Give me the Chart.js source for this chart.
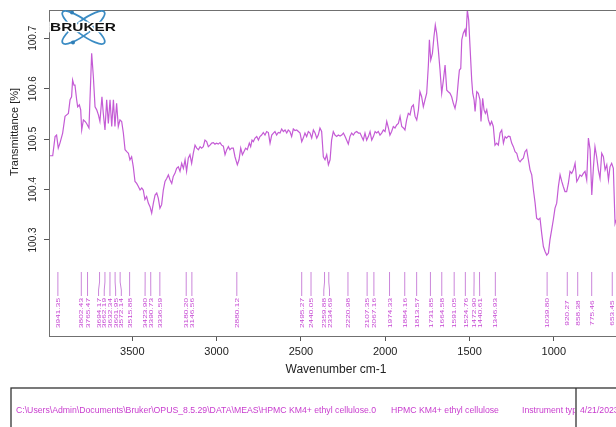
<!DOCTYPE html>
<html>
<head>
<meta charset="utf-8">
<script src="https://cdn.jsdelivr.net/npm/chart.js@4/dist/chart.umd.min.js"></script>
<style>
  html, body { margin: 0; padding: 0; background: #fff; width: 616px; height: 427px; overflow: hidden; }
  #wrap { position: absolute; left: 0; top: 0; width: 700px; height: 427px; }
</style>
</head>
<body>
<div id="wrap"><canvas id="spectrum" width="700" height="427"></canvas></div>
<script>
// IR spectrum: wavenumber (cm-1) and transmittance (%)
const wavenumbers = [
  3988, 3972, 3958, 3949, 3939, 3929, 3913, 3899, 3889, 3879, 3869, 3860, 3854, 3846, 3840, 3830,
  3824, 3814, 3806, 3800, 3790, 3780, 3771, 3757, 3751, 3741, 3731, 3721, 3711, 3701, 3692, 3680,
  3672, 3662, 3652, 3642, 3632, 3622, 3612, 3603, 3593, 3583, 3573, 3563, 3553, 3543, 3533, 3523,
  3514, 3504, 3494, 3484, 3474, 3464, 3454, 3444, 3435, 3425, 3415, 3405, 3395, 3385, 3375, 3365,
  3355, 3346, 3336, 3326, 3316, 3306, 3296, 3286, 3276, 3266, 3257, 3247, 3237, 3227, 3217, 3207,
  3197, 3187, 3178, 3168, 3158, 3148, 3138, 3128, 3118, 3108, 3098, 3089, 3079, 3069, 3059, 3049,
  3039, 3029, 3019, 3010, 3000, 2990, 2980, 2970, 2960, 2950, 2940, 2930, 2921, 2911, 2901, 2891,
  2877, 2867, 2857, 2847, 2838, 2828, 2818, 2806, 2798, 2790, 2782, 2772, 2762, 2752, 2743, 2733,
  2723, 2713, 2703, 2693, 2683, 2673, 2663, 2654, 2644, 2634, 2624, 2614, 2604, 2594, 2584, 2575,
  2565, 2555, 2545, 2535, 2525, 2515, 2505, 2495, 2486, 2476, 2466, 2456, 2446, 2436, 2426, 2416,
  2406, 2397, 2387, 2377, 2367, 2357, 2347, 2337, 2327, 2318, 2308, 2298, 2288, 2278, 2268, 2258,
  2248, 2238, 2229, 2219, 2209, 2199, 2189, 2179, 2169, 2159, 2149, 2140, 2130, 2120, 2110, 2100,
  2090, 2080, 2070, 2060, 2051, 2041, 2031, 2021, 2011, 2001, 1991, 1981, 1972, 1962, 1952, 1942,
  1932, 1922, 1912, 1902, 1892, 1883, 1873, 1863, 1853, 1843, 1833, 1823, 1813, 1803, 1794, 1784,
  1774, 1764, 1754, 1744, 1738, 1730, 1720, 1711, 1703, 1695, 1685, 1675, 1665, 1655, 1645, 1635,
  1626, 1616, 1606, 1596, 1586, 1576, 1566, 1560, 1552, 1546, 1537, 1527, 1521, 1513, 1505, 1497,
  1487, 1481, 1473, 1467, 1457, 1448, 1438, 1432, 1422, 1414, 1406, 1398, 1388, 1378, 1369, 1359,
  1349, 1339, 1329, 1319, 1309, 1299, 1289, 1280, 1270, 1260, 1250, 1240, 1230, 1220, 1210, 1200,
  1191, 1181, 1171, 1161, 1151, 1141, 1131, 1121, 1111, 1102, 1092, 1082, 1072, 1062, 1052, 1042,
  1032, 1023, 1013, 1003, 993, 983, 973, 963, 953, 944, 934, 924, 914, 904, 894, 884,
  874, 864, 854, 845, 835, 825, 815, 805, 795, 785, 775, 765, 756, 746, 736, 726,
  716, 706, 696, 686, 676, 667, 657, 647, 637, 631
];
const transmittance = [
  100.467, 100.467, 100.505, 100.508, 100.482, 100.492, 100.512, 100.545, 100.548, 100.551, 100.578, 100.584, 100.617, 100.607, 100.607, 100.578,
  100.564, 100.568, 100.558, 100.518, 100.538, 100.535, 100.531, 100.522, 100.578, 100.670, 100.624, 100.564, 100.558, 100.548, 100.535, 100.584,
  100.551, 100.518, 100.578, 100.531, 100.578, 100.525, 100.578, 100.525, 100.571, 100.525, 100.538, 100.535, 100.512, 100.479, 100.475, 100.472,
  100.459, 100.465, 100.445, 100.416, 100.412, 100.406, 100.399, 100.403, 100.399, 100.380, 100.386, 100.373, 100.366, 100.353, 100.373, 100.389,
  100.393, 100.383, 100.363, 100.370, 100.399, 100.416, 100.422, 100.429, 100.419, 100.412, 100.426, 100.432, 100.442, 100.445, 100.436, 100.452,
  100.442, 100.459, 100.436, 100.462, 100.469, 100.452, 100.472, 100.488, 100.482, 100.479, 100.485, 100.482, 100.485, 100.498, 100.495, 100.485,
  100.488, 100.492, 100.493, 100.490, 100.492, 100.490, 100.493, 100.488, 100.486, 100.469, 100.479, 100.485, 100.479, 100.482, 100.482, 100.465,
  100.449, 100.459, 100.482, 100.469, 100.475, 100.482, 100.479, 100.492, 100.485, 100.498, 100.495, 100.502, 100.505, 100.498, 100.505, 100.508,
  100.513, 100.508, 100.515, 100.513, 100.492, 100.508, 100.512, 100.515, 100.508, 100.513, 100.512, 100.520, 100.515, 100.518, 100.512, 100.518,
  100.515, 100.505, 100.520, 100.517, 100.518, 100.515, 100.512, 100.495, 100.502, 100.512, 100.505, 100.515, 100.512, 100.502, 100.518, 100.512,
  100.502, 100.508, 100.522, 100.515, 100.465, 100.459, 100.469, 100.449, 100.459, 100.498, 100.515, 100.508, 100.505, 100.508, 100.506, 100.508,
  100.512, 100.505, 100.498, 100.490, 100.505, 100.512, 100.508, 100.513, 100.515, 100.512, 100.512, 100.505, 100.498, 100.512, 100.498, 100.505,
  100.515, 100.498, 100.505, 100.515, 100.512, 100.515, 100.508, 100.512, 100.518, 100.515, 100.535, 100.522, 100.508, 100.515, 100.525, 100.522,
  100.528, 100.531, 100.545, 100.525, 100.522, 100.518, 100.538, 100.551, 100.548, 100.564, 100.568, 100.545, 100.538, 100.558, 100.594, 100.584,
  100.564, 100.578, 100.591, 100.647, 100.697, 100.657, 100.670, 100.703, 100.726, 100.710, 100.677, 100.637, 100.591, 100.617, 100.647, 100.597,
  100.594, 100.591, 100.584, 100.571, 100.561, 100.578, 100.617, 100.637, 100.640, 100.697, 100.710, 100.717, 100.703, 100.756, 100.736, 100.683,
  100.617, 100.591, 100.578, 100.555, 100.594, 100.591, 100.578, 100.535, 100.581, 100.558, 100.551, 100.558, 100.538, 100.528, 100.535, 100.525,
  100.488, 100.492, 100.488, 100.512, 100.518, 100.492, 100.505, 100.502, 100.506, 100.505, 100.492, 100.485, 100.475, 100.472, 100.459, 100.455,
  100.459, 100.462, 100.475, 100.479, 100.459, 100.439, 100.429, 100.399, 100.373, 100.343, 100.340, 100.343, 100.313, 100.287, 100.277, 100.270,
  100.274, 100.300, 100.320, 100.340, 100.363, 100.373, 100.406, 100.429, 100.416, 100.406, 100.396, 100.396, 100.412, 100.436, 100.432, 100.439,
  100.452, 100.416, 100.422, 100.429, 100.426, 100.432, 100.436, 100.419, 100.502, 100.479, 100.389, 100.445, 100.485, 100.465, 100.439, 100.422,
  100.472, 100.465, 100.439, 100.449, 100.419, 100.445, 100.452, 100.442, 100.333, 100.340
];

// Picked band positions (cm-1)
const peakPositions = [
  3941.35, 3802.43, 3765.47, 3694.17, 3662.19, 3632.34, 3601.95, 3572.14, 3515.88, 3423.90,
  3390.73, 3336.59, 3180.20, 3146.56, 2880.12, 2495.27, 2440.05, 2359.88, 2334.69, 2220.98,
  2107.35, 2067.16, 1974.33, 1884.16, 1813.57, 1731.85, 1664.58, 1591.05, 1524.76, 1472.90,
  1440.61, 1346.93, 1039.80, 920.27, 858.38, 775.46, 653.45
];

const xTickValues = [3500, 3000, 2500, 2000, 1500, 1000];
const yTickValues = [100.3, 100.4, 100.5, 100.6, 100.7];

const xTitle = 'Wavenumber cm-1';
const yTitle = 'Transmittance [%]';
const filePath = 'C:\\Users\\Admin\\Documents\\Bruker\\OPUS_8.5.29\\DATA\\MEAS\\HPMC KM4+ ethyl cellulose.0';
const sampleName = 'HPMC KM4+ ethyl cellulose';
const instrumentText = 'Instrument type and / or accessory';
const measureDate = '4/21/2023';

const FONT = '"Liberation Sans", Arial, sans-serif';
const LINE_COLOR = '#c45bd5';
const LABEL_COLOR = '#c545d2';

// Frame around the plotting region
const framePlugin = {
  id: 'frame',
  afterDatasetsDraw(chart) {
    const { ctx, chartArea: a } = chart;
    ctx.save();
    ctx.strokeStyle = '#707070';
    ctx.lineWidth = 1;
    ctx.strokeRect(Math.round(a.left) + 0.5, Math.round(a.top) + 0.5,
                   Math.round(a.right - a.left), Math.round(a.bottom - a.top));
    ctx.restore();
  }
};

// Rotated y tick labels and both axis titles
const axisTextPlugin = {
  id: 'axisText',
  afterDraw(chart) {
    const { ctx } = chart;
    const ys = chart.scales.y;
    ctx.save();
    ctx.fillStyle = '#222';
    ctx.textAlign = 'center';
    ctx.textBaseline = 'middle';
    ctx.font = '10px ' + FONT;
    yTickValues.forEach(v => {
      const py = ys.getPixelForValue(v);
      ctx.save();
      ctx.translate(33, py);
      ctx.rotate(-Math.PI / 2);
      ctx.fillText(v.toFixed(1), 0, 0);
      ctx.restore();
    });
    ctx.font = '11px ' + FONT;
    ctx.save();
    ctx.translate(15, 132);
    ctx.rotate(-Math.PI / 2);
    ctx.fillText(yTitle, 0, 0);
    ctx.restore();
    ctx.font = '12px ' + FONT;
    ctx.fillText(xTitle, 336, 370);
    ctx.restore();
  }
};

// Band labels with leader lines at the bottom of the plot
const peakLabelPlugin = {
  id: 'peakLabels',
  afterDatasetsDraw(chart) {
    const { ctx } = chart;
    const xs = chart.scales.x;
    const items = peakPositions
      .map(w => ({ w, px: xs.getPixelForValue(w) }))
      .sort((a, b) => a.px - b.px);
    const gap = 5.7;
    const pos = items.map(it => it.px);
    for (let it = 0; it < 1000; it++) {
      let moved = false;
      for (let i = 1; i < pos.length; i++) {
        const d = pos[i] - pos[i - 1];
        if (d < gap - 0.01) {
          const s = (gap - d) / 2;
          pos[i - 1] -= s; pos[i] += s; moved = true;
        }
      }
      if (!moved) break;
    }
    ctx.save();
    ctx.strokeStyle = '#cb86da';
    ctx.lineWidth = 1;
    items.forEach((it, i) => {
      ctx.beginPath();
      ctx.moveTo(it.px, 272);
      ctx.lineTo(it.px, 282);
      ctx.lineTo(pos[i], 290);
      ctx.lineTo(pos[i], 296);
      ctx.stroke();
    });
    ctx.fillStyle = LABEL_COLOR;
    ctx.font = '6px ' + FONT;
    ctx.textAlign = 'center';
    ctx.textBaseline = 'middle';
    items.forEach((it, i) => {
      const txt = it.w.toFixed(2);
      const stretch = 30 / ctx.measureText('0000.00').width;
      ctx.save();
      ctx.translate(pos[i], 313);
      ctx.rotate(-Math.PI / 2);
      ctx.scale(stretch, 1);
      ctx.fillText(txt, 0, 0.5);
      ctx.restore();
    });
    ctx.restore();
  }
};

// Instrument logo in the upper-left corner
const logoPlugin = {
  id: 'logo',
  afterDraw(chart) {
    const { ctx } = chart;
    ctx.save();
    const cx = 83.5, cy = 27.5;
    ctx.strokeStyle = '#3b8cc4';
    ctx.lineWidth = 1.8;
    [0.64, -0.64].forEach(ang => {
      ctx.beginPath();
      ctx.ellipse(cx, cy, 26, 7, ang, 0, Math.PI * 2);
      ctx.stroke();
    });
    ctx.fillStyle = '#2f7fb8';
    [[72, 12.5], [73, 42.5]].forEach(([x, y]) => {
      ctx.beginPath(); ctx.arc(x, y, 2, 0, Math.PI * 2); ctx.fill();
    });
    ctx.font = 'bold 11px ' + FONT;
    ctx.textBaseline = 'middle';
    ctx.textAlign = 'left';
    const w = ctx.measureText('BRUKER').width;
    ctx.translate(50, 27.5);
    ctx.scale(66 / w, 1);
    ctx.lineWidth = 2.5;
    ctx.strokeStyle = '#fff';
    ctx.strokeText('BRUKER', 0, 0);
    ctx.fillStyle = '#111';
    ctx.fillText('BRUKER', 0, 0);
    ctx.restore();
  }
};

// Sample information box below the plot
const footerPlugin = {
  id: 'footer',
  afterDraw(chart) {
    const { ctx } = chart;
    ctx.save();
    ctx.strokeStyle = '#333';
    ctx.lineWidth = 1.3;
    ctx.strokeRect(11, 388, 700, 60);
    ctx.beginPath();
    ctx.moveTo(576, 388); ctx.lineTo(576, 440);
    ctx.stroke();
    ctx.fillStyle = '#c83cce';
    ctx.font = '8.7px ' + FONT;
    ctx.textBaseline = 'middle';
    ctx.textAlign = 'left';
    ctx.fillText(filePath, 16, 410.5);
    ctx.fillText(sampleName, 391, 410.5);
    ctx.save();
    ctx.beginPath();
    ctx.rect(11, 388, 564, 50);
    ctx.clip();
    ctx.fillText(instrumentText, 522, 410.5);
    ctx.restore();
    ctx.fillText(measureDate, 580, 410.5);
    ctx.restore();
  }
};

const points = wavenumbers.map((w, i) => ({ x: w, y: transmittance[i] }));

new Chart(document.getElementById('spectrum'), {
  type: 'line',
  data: {
    datasets: [{
      data: points,
      borderColor: LINE_COLOR,
      borderWidth: 1.2,
      pointRadius: 0,
      tension: 0,
      fill: false
    }]
  },
  options: {
    responsive: false,
    animation: false,
    devicePixelRatio: 1,
    layout: { padding: { left: 0, right: 45, top: 10, bottom: 0 } },
    plugins: { legend: { display: false }, tooltip: { enabled: false } },
    scales: {
      x: {
        type: 'linear',
        reverse: true,
        min: 400,
        max: 3994,
        afterBuildTicks: s => { s.ticks = xTickValues.map(v => ({ value: v })); },
        afterFit: s => { s.height = 91; },
        border: { display: false },
        grid: { drawOnChartArea: false, drawTicks: true, tickLength: 5, color: '#555', lineWidth: 1 },
        ticks: { color: '#222', font: { family: FONT, size: 11 }, padding: 4, maxRotation: 0, autoSkip: false,
                 callback: v => String(v) }
      },
      y: {
        type: 'linear',
        min: 100.1095,
        max: 100.756,
        afterBuildTicks: s => { s.ticks = yTickValues.map(v => ({ value: v })); },
        afterFit: s => { s.width = 49; },
        border: { display: false },
        grid: { drawOnChartArea: false, drawTicks: true, tickLength: 5, color: '#555', lineWidth: 1 },
        ticks: { display: false }
      }
    }
  },
  plugins: [framePlugin, peakLabelPlugin, logoPlugin, axisTextPlugin, footerPlugin]
});
</script>
</body>
</html>
